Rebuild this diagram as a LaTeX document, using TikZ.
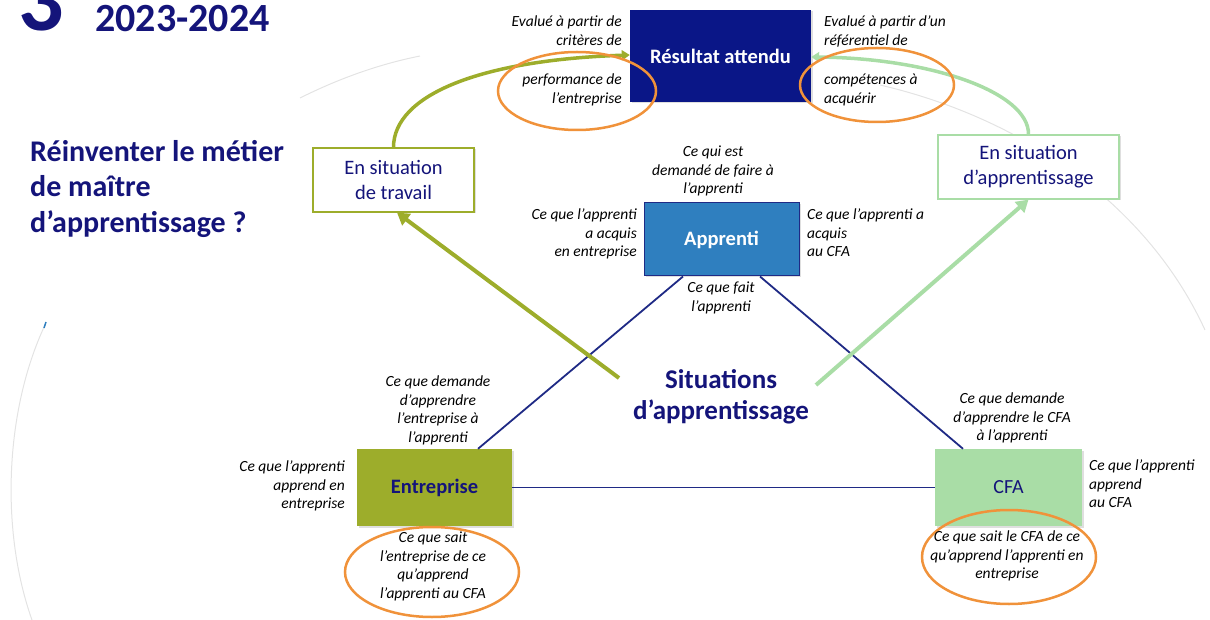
\documentclass[tikz,border=0pt]{standalone}
\usepackage{fontspec}
\setmainfont{Carlito}
\usetikzlibrary{shadows,arrows.meta}
\definecolor{navy}{HTML}{14147A}
\definecolor{boxnavy}{HTML}{0A1687}
\definecolor{apblue}{HTML}{2F7FBF}
\definecolor{olive}{HTML}{9DAD2B}
\definecolor{lgreen}{HTML}{A9DDA6}
\definecolor{orng}{HTML}{F0923A}
\definecolor{lnavy}{HTML}{1F2A85}
\begin{document}
\begin{tikzpicture}[x=1pt,y=-1pt,
  note/.style={font=\fontsize{15.5}{18.5}\selectfont\itshape, inner sep=0pt, text=black},
  boxshadow/.style={drop shadow={opacity=0.25, shadow xshift=1.5pt, shadow yshift=-1.5pt}},
  mainbox/.style={inner sep=0pt, boxshadow, font=\fontsize{20.5}{24}\selectfont\bfseries},
  sitbox/.style={draw, line width=1.2pt, fill=white, inner sep=0pt, minimum height=64pt,
     font=\fontsize{20.5}{25}\selectfont, text=navy, align=center, boxshadow},
  navyline/.style={draw=lnavy, line width=1.8pt},
  olivearrow/.style={draw=olive, line width=4pt, -{Triangle[length=12pt,width=14pt]}},
  greenarrow/.style={draw=lgreen, line width=4pt, -{Triangle[length=12pt,width=14pt]}},
  olivecurve/.style={draw=olive, line width=3.5pt, -{Triangle[length=8pt,width=10pt]}},
  greencurve/.style={draw=lgreen, line width=3.5pt, -{Triangle[length=8pt,width=10pt]}},
  ring/.style={draw=orng, line width=2.5pt},
  faint/.style={draw=gray!22, line width=1pt}
]
\useasboundingbox (0,0) rectangle (1210,620);

% faint background arcs
\draw[faint] (45,325) .. controls (5,410) and (0,530) .. (32,620);
\draw[faint] (300,98) .. controls (340,78) and (380,64) .. (420,56);
\draw[faint] (880,85) .. controls (1030,120) and (1150,210) .. (1205,330);
\draw[draw=apblue, line width=1.5pt] (44,328) -- (46,322);

% title
\node[anchor=base west, inner sep=0pt, text=navy, font=\fontsize{90}{90}\selectfont\bfseries] (three) at (18,31) {3};
\node[anchor=base west, inner sep=0pt, text=navy, font=\fontsize{40}{40}\selectfont\bfseries] (year) at (95,32) {2023-2024};
\node[anchor=north west, inner sep=0pt, text=navy, align=left, font=\fontsize{30}{35.5}\selectfont\bfseries] (quest) at (30,140) {Réinventer le métier\\de maître\\d’apprentissage ?};

% main boxes
\node[mainbox, fill=boxnavy, text=white, minimum width=181pt, minimum height=92pt] (res) at (720.5,56) {Résultat attendu};
\node[mainbox, fill=apblue, draw=lnavy, line width=1pt, text=white, minimum width=155pt, minimum height=73pt] (app) at (721.5,239.5) {Apprenti};
\node[mainbox, fill=olive, text=navy, minimum width=155pt, minimum height=77pt] (ent) at (434.5,487.5) {Entreprise};
\node[mainbox, fill=lgreen, text=navy, minimum width=147pt, minimum height=77pt, font=\fontsize{20}{24}\selectfont] (cfa) at (1008.5,487.5) {CFA};

\node[sitbox, draw=olive, minimum width=161pt] (trav) at (393.5,180) {En situation\\de travail};
\node[sitbox, draw=lgreen, minimum width=181pt] (appr) at (1028.5,167) {En situation\\d’apprentissage};

% triangle connectors
\draw[navyline] ([xshift=-38.5pt]app.south) -- ([xshift=43.5pt]ent.north);
\draw[navyline] ([xshift=38.5pt]app.south) -- ([xshift=-45.5pt]cfa.north);
\draw[navyline] (ent.east) -- (cfa.west);

% arrows
\coordinate (olstart) at (619,378);
\coordinate (grstart) at (816,385);
\draw[olivearrow] (olstart) -- ([xshift=3.5pt]trav.south);
\draw[greenarrow] (grstart) -- (appr.south);
\draw[olivecurve] (trav.north) .. controls (393.5,95) and (480,60) .. ([yshift=1pt]res.west);
\draw[greencurve] (appr.north) .. controls (1029,92) and (930,58) .. ([yshift=-1pt]res.east);

% orange rings
\draw[ring] (577,91) ellipse [x radius=79pt, y radius=39pt];
\draw[ring] (877,85) ellipse [x radius=77pt, y radius=37pt];
\draw[ring] (432,572) ellipse [x radius=87pt, y radius=45pt];
\draw[ring] (1009,557) ellipse [x radius=87pt, y radius=47pt];

% notes around result
\node[note, align=right, anchor=north east] (rl1) at (622,16) {Evalué à partir de\\critères de};
\node[note, align=right, anchor=north east] (rl2) at (622,74) {performance de\\l’entreprise};
\node[note, align=left, anchor=north west] (rr1) at (824,16) {Evalué à partir d’un\\référentiel de};
\node[note, align=left, anchor=north west] (rr2) at (824,74) {compétences à\\acquérir};

% notes around apprenti
\node[note, align=center, anchor=north] (aq) at (713,146) {Ce qui est\\demandé de faire à\\l’apprenti};
\node[note, align=right, anchor=north east] (al) at (637,209) {Ce que l’apprenti\\a acquis\\en entreprise};
\node[note, align=left, anchor=north west] (ar) at (807,209) {Ce que l’apprenti a\\acquis\\au CFA};
\node[note, align=center, anchor=north] (ab) at (721,282) {Ce que fait\\l’apprenti};

% notes around entreprise
\node[note, align=center, anchor=north] (et) at (438,376) {Ce que demande\\d’apprendre\\l’entreprise à\\l’apprenti};
\node[note, align=right, anchor=north east] (el) at (345,461) {Ce que l’apprenti\\apprend en\\entreprise};
\node[note, align=center, anchor=north] (eb) at (433,532) {Ce que sait\\l’entreprise de ce\\qu’apprend\\l’apprenti au CFA};

% notes around CFA
\node[note, align=center, anchor=north] (ct) at (1012,393) {Ce que demande\\d’apprendre le CFA\\à l’apprenti};
\node[note, align=left, anchor=north west] (cr) at (1089,460) {Ce que l’apprenti\\apprend\\au CFA};
\node[note, align=center, anchor=north] (cb) at (1007,531) {Ce que sait le CFA de ce\\qu’apprend l’apprenti en\\entreprise};

% centre label
\node[align=center, inner sep=0pt, text=navy, font=\fontsize{27}{31}\selectfont\bfseries] (sit) at (721,397) {Situations\\d’apprentissage};
\end{tikzpicture}
\end{document}
